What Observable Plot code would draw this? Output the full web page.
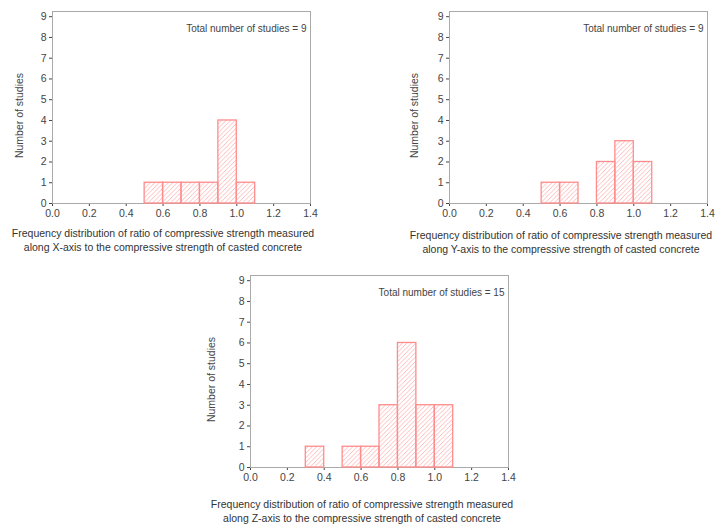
<!DOCTYPE html>
<html>
<head>
<meta charset="utf-8">
<script src="https://cdn.jsdelivr.net/npm/d3@7"></script>
<script src="https://cdn.jsdelivr.net/npm/@observablehq/plot@0.6"></script>
<style>
  body { margin: 0; background: #fff; }
  #root { position: relative; width: 720px; height: 530px; overflow: hidden; font-family: "Liberation Sans", Arial, sans-serif; }
  .panel { position: absolute; }
  .caption { position: absolute; font-size: 10.5px; line-height: 14px; color: #333; text-align: center; white-space: nowrap; transform: translateX(-50%); }
</style>
</head>
<body>
<div id="root"></div>
<script>
// Bin edges (lower, upper) and counts
const binLowX = [0.5, 0.6, 0.7, 0.8, 0.9, 1.0];
const binHighX = [0.6, 0.7, 0.8, 0.9, 1.0, 1.1];
const countsX = [1, 1, 1, 1, 4, 1];

const binLowY = [0.5, 0.6, 0.8, 0.9, 1.0];
const binHighY = [0.6, 0.7, 0.9, 1.0, 1.1];
const countsY = [1, 1, 2, 3, 2];

const binLowZ = [0.3, 0.5, 0.6, 0.7, 0.8, 0.9, 1.0];
const binHighZ = [0.4, 0.6, 0.7, 0.8, 0.9, 1.0, 1.1];
const countsZ = [1, 1, 1, 3, 6, 3, 3];

const xTicks = [0, 0.2, 0.4, 0.6, 0.8, 1.0, 1.2, 1.4];
const yTicks = [0, 1, 2, 3, 4, 5, 6, 7, 8, 9];
const yLabel = "Number of studies";
const totals = ["Total number of studies = 9", "Total number of studies = 9", "Total number of studies = 15"];
const captions = [
  ["Frequency distribution of ratio of compressive strength measured", "along X-axis to the compressive strength of casted concrete"],
  ["Frequency distribution of ratio of compressive strength measured", "along Y-axis to the compressive strength of casted concrete"],
  ["Frequency distribution of ratio of compressive strength measured", "along Z-axis to the compressive strength of casted concrete"]
];

const panels = [
  {low: binLowX, high: binHighX, counts: countsX, left: 0, top: 0, labelDx: -33, cap: {x: 163, y: 226}},
  {low: binLowY, high: binHighY, counts: countsY, left: 397, top: 0, labelDx: -35, cap: {x: 561, y: 228}},
  {low: binLowZ, high: binHighZ, counts: countsZ, left: 198, top: 264, labelDx: -39, cap: {x: 362, y: 497}}
];

const root = document.getElementById("root");

panels.forEach((p, i) => {
  const data = p.low.map((lo, j) => ({x1: lo, x2: p.high[j], n: p.counts[j]}));
  const pid = "hatch" + i;
  const svg = Plot.plot({
    width: 320,
    height: 225,
    marginLeft: 52,
    marginRight: 10,
    marginTop: 11,
    marginBottom: 22,
    style: {fontFamily: "Liberation Sans, Arial, sans-serif", fontSize: "10.5px", color: "#444", background: "transparent", overflow: "visible"},
    x: {domain: [0, 1.4], ticks: xTicks, tickFormat: d3.format(".1f"), tickSize: 3, tickPadding: 3, label: null, line: true},
    y: {domain: [0, 9.25], ticks: yTicks, tickFormat: d3.format("d"), tickSize: 3, tickPadding: 3, label: null, line: true},
    marks: [
      Plot.frame({stroke: "#aaa", strokeWidth: 1}),
      Plot.rectY(data, {x1: "x1", x2: "x2", y: "n", fill: `url(#${pid})`, stroke: "#ff8c8c", strokeWidth: 1.3}),
      Plot.text([totals[i]], {frameAnchor: "top-right", dx: -4, dy: 13, text: d => d, fill: "#444", fontSize: 10}),
      Plot.text([yLabel], {frameAnchor: "left", textAnchor: "middle", rotate: -90, dx: p.labelDx, dy: 8, text: d => d, fill: "#444", fontSize: 10.5})
    ]
  });
  d3.select(svg).insert("defs", ":first-child").html(
    `<pattern id="${pid}" patternUnits="userSpaceOnUse" width="4.5" height="4.5">
       <path d="M-1,1 l2,-2 M0,4.5 l4.5,-4.5 M3.5,5.5 l2,-2" stroke="#ffb3b3" stroke-width="0.9"/>
     </pattern>`
  );
  const wrap = document.createElement("div");
  wrap.className = "panel";
  wrap.style.left = p.left + "px";
  wrap.style.top = p.top + "px";
  wrap.appendChild(svg);
  root.appendChild(wrap);

  const cap = document.createElement("div");
  cap.className = "caption";
  cap.style.left = p.cap.x + "px";
  cap.style.top = p.cap.y + "px";
  cap.innerHTML = captions[i].map(s => `<div>${s}</div>`).join("");
  root.appendChild(cap);
});
</script>
</body>
</html>
